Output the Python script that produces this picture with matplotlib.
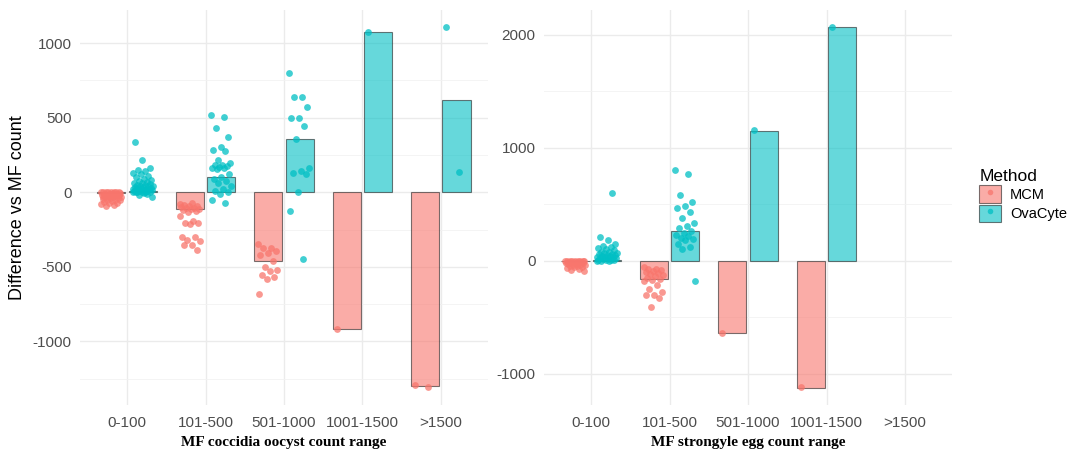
import numpy as np
import matplotlib
matplotlib.use("Agg")
import matplotlib.pyplot as plt
from matplotlib.patches import Patch
from matplotlib.lines import Line2D
from matplotlib.legend_handler import HandlerTuple

plt.rcParams["font.family"] = ["Liberation Sans", "DejaVu Sans"]
plt.rcParams["axes.unicode_minus"] = False

categories = ["0-100", "101-500", "501-1000", "1001-1500", ">1500"]
methods = ["MCM", "OvaCyte"]
colors = {"MCM": "#F8766D", "OvaCyte": "#00BFC4"}

# bar heights (mean difference) per range
cocc_mean_mcm = [-5, -110, -464, -917, -1301]
cocc_mean_ova = [10, 100, 355, 1073, 622]
stro_mean_mcm = [-5, -165, -643, -1124, np.nan]
stro_mean_ova = [5, 263, 1147, 2065, np.nan]

# individual differences, coccidia
cocc_pts_mcm = [
    [0, 0, 0, 0, 0, 0, 0, 0, -5, -5, -10, -10, -10, -15, -15, -20, -20, -20,
     -25, -25, -30, -30, -35, -35, -40, -40, -45, -50, -50, -55, -60, -65,
     -70, -75, -80, -85, -90, -20, -10, -30],
    [-78, -74, -85, -92, -95, -100, -105, -107, -110, -115, -120, -125, -130,
     -158, -190, -203, -203, -215, -297, -297, -319, -330, -353, -353, -390],
    [-346, -375, -375, -397, -408, -420, -464, -498, -520, -531, -553, -569,
     -583, -681],
    [-917],
    [-1290, -1306],
]
cocc_pts_ova = [
    [0, 0, 0, 5, 5, 10, 10, 10, 15, 15, 20, 20, 20, 25, 25, 30, 30, 35, 35,
     40, 40, 45, 50, 50, 55, 60, 65, 70, 75, 80, 90, 100, 110, 120, 130, 140,
     150, 160, 215, 340, -10, -20, -35, -5, 0],
    [518, 507, 433, 368, 306, 283, 279, 217, 194, 185, 180, 175, 170, 165,
     160, 155, 120, 100, 90, 75, 60, 40, 20, 10, 0, -10, -50, -75],
    [801, 638, 638, 571, 500, 496, 444, 355, 165, 143, 132, 123, 4, -123, -449],
    [1076],
    [1109, 134],
]

# individual differences, strongyles
stro_pts_mcm = [
    [0, 0, 0, 0, 0, 0, 0, -5, -5, -10, -10, -15, -15, -20, -20, -25, -25,
     -30, -30, -35, -40, -40, -45, -50, -55, -60, -65, -70, -80, -90],
    [-60, -70, -77, -83, -90, -100, -110, -120, -130, -140, -150, -160, -170,
     -180, -215, -250, -274, -300, -304, -327, -407],
    [-643],
    [-1121],
    [],
]
stro_pts_ova = [
    [0, 0, 0, 5, 5, 10, 10, 15, 20, 20, 25, 30, 30, 35, 40, 45, 50, 50, 55,
     60, 65, 70, 75, 80, 90, 100, 110, 120, 130, 150, 180, 212, 602],
    [802, 764, 581, 516, 487, 463, 434, 375, 336, 310, 286, 260, 242, 230,
     220, 200, 190, 180, 150, 120, 100, -177],
    [1156],
    [2071],
    [],
]


def draw_panel(ax, means, points, ylim, major, minor, xlabel):
    x = np.arange(len(categories))
    for k, m in enumerate(methods):
        off = -0.2 if k == 0 else 0.2
        ax.bar(x + off, means[k], width=0.36, color=colors[m], alpha=0.6,
               edgecolor="#222222", linewidth=0.8, zorder=2)
        for i, vals in enumerate(points[k]):
            n = len(vals)
            jit = ((np.arange(n) * 0.6180339) % 1 - 0.5) * 0.26
            ax.scatter(x[i] + off + jit, vals, s=24, color=colors[m],
                       alpha=0.75, linewidths=0, zorder=3)
    ax.set_xlim(-0.6, len(categories) - 0.4)
    ax.set_ylim(*ylim)
    ax.set_xticks(x)
    ax.set_xticklabels(categories)
    ax.set_yticks(major)
    ax.set_yticks(minor, minor=True)
    ax.grid(True, which="major", color="#EBEBEB", linewidth=1.0, zorder=0)
    ax.grid(True, which="minor", axis="y", color="#F2F2F2", linewidth=0.6, zorder=0)
    ax.set_axisbelow(True)
    for s in ax.spines.values():
        s.set_visible(False)
    ax.tick_params(which="both", length=0, labelsize=11, labelcolor="#4D4D4D")
    ax.tick_params(axis="x", pad=8)
    ax.tick_params(axis="y", pad=6)
    ax.set_xlabel(xlabel, family="Liberation Serif", fontweight="bold",
                  fontsize=11, labelpad=4)


fig = plt.figure(figsize=(10.69, 4.54), dpi=100)
ax1 = fig.add_axes([0.0748, 0.108, 0.3817, 0.870])
ax2 = fig.add_axes([0.5089, 0.108, 0.3817, 0.870])

draw_panel(ax1, [cocc_mean_mcm, cocc_mean_ova], [cocc_pts_mcm, cocc_pts_ova],
           (-1427, 1223), [-1000, -500, 0, 500, 1000],
           [-1250, -750, -250, 250, 750], "MF coccidia oocyst count range")
draw_panel(ax2, [stro_mean_mcm, stro_mean_ova], [stro_pts_mcm, stro_pts_ova],
           (-1278, 2220), [-1000, 0, 1000, 2000],
           [-500, 500, 1500], "MF strongyle egg count range")
ax1.set_ylabel("Difference vs MF count", fontsize=13, labelpad=5)

handles = []
for m in methods:
    handles.append((Patch(facecolor=colors[m], alpha=0.6, edgecolor="#222222", linewidth=0.8),
                    Line2D([], [], marker="o", linestyle="none", color=colors[m],
                           alpha=0.75, markersize=4, markeredgewidth=0)))
leg = fig.legend(handles, methods, handler_map={tuple: HandlerTuple(ndivide=1, pad=0)},
                 loc="upper left", bbox_to_anchor=(0.916, 0.628), frameon=False,
                 title="Method", title_fontsize=12.5, fontsize=10.5,
                 handlelength=1.5, handleheight=1.5, handletextpad=0.6,
                 labelspacing=0.1, borderaxespad=0, borderpad=0)
leg._legend_box.align = "left"

fig.savefig("out.png", dpi=100)
